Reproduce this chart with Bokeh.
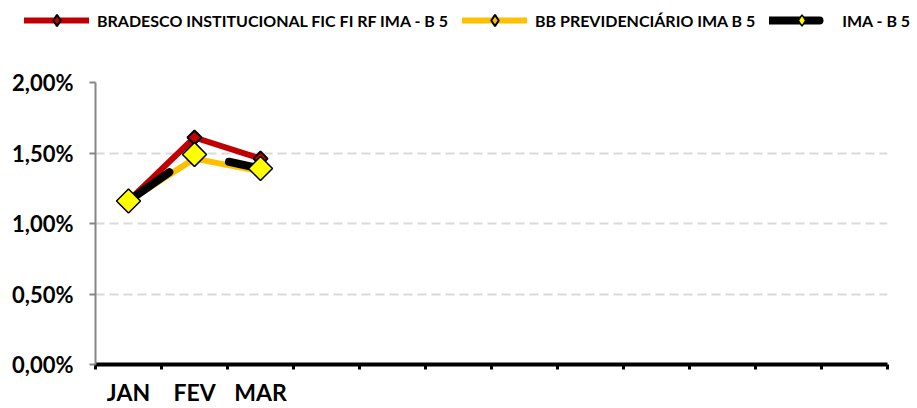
import math
from bokeh.plotting import figure
from bokeh.models import Range1d, FixedTicker, Legend, LegendItem
from bokeh.embed import file_html
from bokeh.resources import INLINE

months = ["JAN", "FEV", "MAR", "ABR", "MAI", "JUN", "JUL", "AGO", "SET", "OUT", "NOV", "DEZ"]
shown_months = ["JAN", "FEV", "MAR"]
month_labels = ["JAN", "FEV", "MAR", "", "", "", "", "", "", "", "", ""]

bradesco = [1.16, 1.61, 1.46]
bb = [1.16, 1.46, 1.37]
ima_b5 = [1.16, 1.49, 1.39]

series_names = ["BRADESCO INSTITUCIONAL FIC FI RF IMA - B 5",
                "BB PREVIDENCIÁRIO IMA B 5",
                "IMA - B 5"]

y_ticks = [0.0, 0.5, 1.0, 1.5, 2.0]
y_tick_labels = ["0,00%", "0,50%", "1,00%", "1,50%", "2,00%"]

xs = [months.index(m) + 0.5 for m in shown_months]

FONT = "Lato"
RED, GOLD, YELLOW = "#c00000", "#ffc000", "#ffff00"

LINE_STYLES = [dict(line_color=RED, line_width=6),
               dict(line_color=GOLD, line_width=6),
               dict(line_color="black", line_width=8, line_dash="50 66")]
MARKER_STYLES = [dict(size=10, fill_color=RED, line_color="black", line_width=2),
                 dict(size=10, fill_color=GOLD, line_color="black", line_width=2),
                 dict(size=17, fill_color=YELLOW, line_color="black", line_width=1.5)]
series = [bradesco, bb, ima_b5]

# ---------------- main chart ----------------
p = figure(width=917, height=368, output_backend="svg", toolbar_location=None,
           x_range=Range1d(0, len(months)), y_range=Range1d(0, 2),
           min_border_left=95, min_border_right=30, min_border_top=42, min_border_bottom=44)
p.outline_line_color = None
p.background_fill_color = "white"
p.border_fill_color = "white"

p.xgrid.grid_line_color = None
p.ygrid.ticker = FixedTicker(ticks=y_ticks[1:])
p.ygrid.grid_line_color = "#d9d9d9"
p.ygrid.grid_line_width = 2
p.ygrid.grid_line_dash = "9 5"

ya = p.yaxis[0]
ya.ticker = FixedTicker(ticks=y_ticks)
ya.major_label_overrides = {t: l for t, l in zip(y_ticks, y_tick_labels)}
ya.axis_line_color = "#868686"
ya.axis_line_width = 2
ya.major_tick_line_color = "#868686"
ya.major_tick_line_width = 2
ya.major_tick_out = 6
ya.major_tick_in = 0
ya.minor_tick_line_color = None
ya.major_label_text_font = FONT
ya.major_label_text_font_style = "bold"
ya.major_label_text_font_size = "22px"
ya.major_label_text_color = "black"
ya.major_label_standoff = 16

xa = p.xaxis[0]
centers = [i + 0.5 for i in range(len(months))]
xa.ticker = FixedTicker(ticks=centers, minor_ticks=list(range(len(months) + 1)))
xa.major_label_overrides = {c: l for c, l in zip(centers, month_labels)}
xa.axis_line_color = "black"
xa.axis_line_width = 4
xa.major_tick_line_color = None
xa.minor_tick_line_color = "black"
xa.minor_tick_line_width = 3
xa.minor_tick_out = 5
xa.minor_tick_in = 0
xa.major_label_text_font = FONT
xa.major_label_text_font_style = "bold"
xa.major_label_text_font_size = "23px"
xa.major_label_text_color = "black"
xa.major_label_standoff = 7

for ys, ls in zip(series, LINE_STYLES):
    p.line(xs, ys, line_cap="round", line_join="round", **ls)
for ys, ms in zip(series, MARKER_STYLES):
    p.scatter(xs, ys, marker="square", angle=math.pi / 4, **ms)

# ---------------- legend strip (separate root, frame covers the whole strip) ----------------
lg = figure(width=917, height=40, output_backend="svg", toolbar_location=None,
            x_range=Range1d(0, 1), y_range=Range1d(100, 101),
            x_axis_location=None, y_axis_location=None,
            min_border_left=0, min_border_right=0, min_border_top=0, min_border_bottom=0)
lg.outline_line_color = None
lg.xgrid.grid_line_color = None
lg.ygrid.grid_line_color = None
lg.border_fill_color = "white"
lg.background_fill_color = "white"

items = []
for name, ys, ls, ms in zip(series_names, series, LINE_STYLES, MARKER_STYLES):
    lr = lg.line(xs, ys, line_cap="round", line_join="round", **ls)
    mstyle = dict(ms)
    mstyle.pop("size")
    mr = lg.scatter(xs, ys, marker="diamond", size=10, **mstyle)
    items.append(LegendItem(label=name, renderers=[lr, mr]))

legend = Legend(items=items, orientation="horizontal", location=(24, 6),
                glyph_width=65, glyph_height=28, label_standoff=8, spacing=14,
                padding=0, margin=0, border_line_color=None, background_fill_alpha=0,
                label_text_font=FONT, label_text_font_style="bold",
                label_text_font_size="16px", label_text_color="black")
lg.add_layout(legend)

open("out.html", "w").write(file_html([lg, p], INLINE))
